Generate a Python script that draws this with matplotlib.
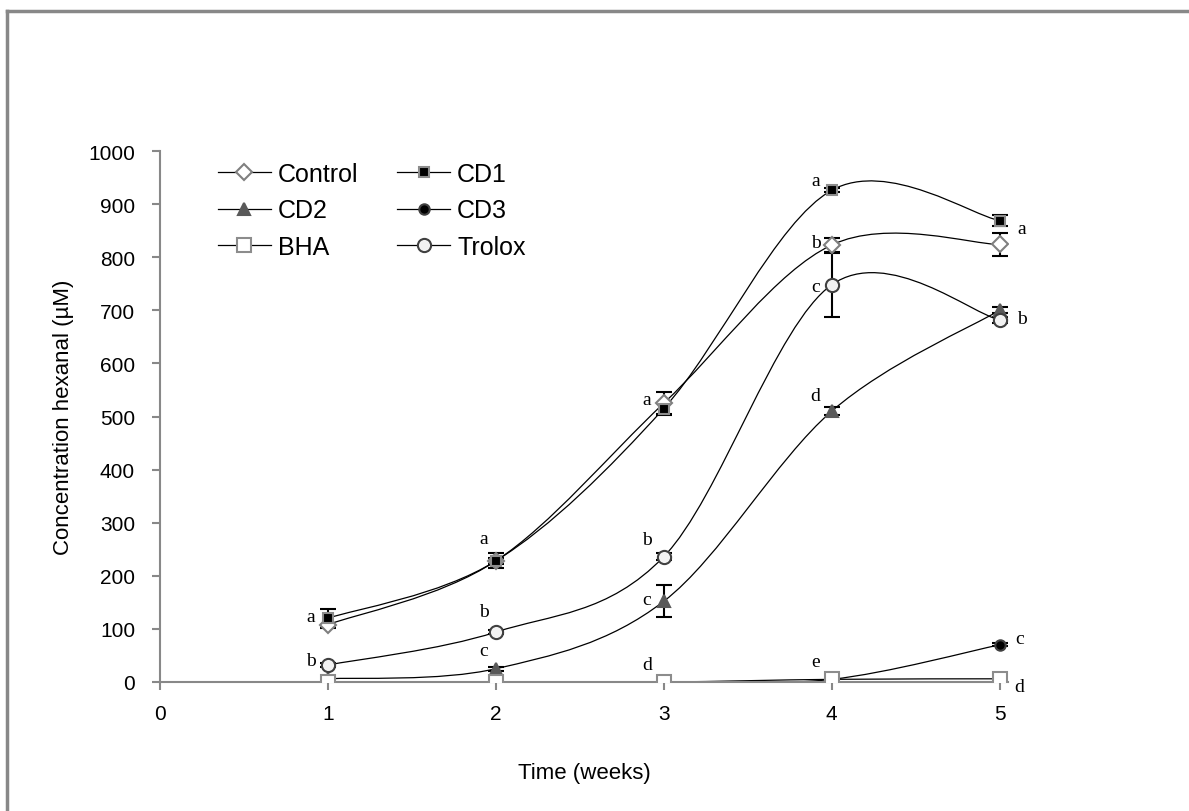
import numpy as np
import matplotlib
matplotlib.use("Agg")
import matplotlib.pyplot as plt
from matplotlib.path import Path
from matplotlib.patches import PathPatch
from matplotlib.lines import Line2D

weeks = [1, 2, 3, 4, 5]

control = [108, 228, 525, 823, 824]
control_err = [0, 6, 22, 14, 22]
cd1 = [120, 228, 515, 926, 869]
cd1_err = [18, 14, 10, 4, 10]
cd2 = [6, 25, 152, 510, 700]
cd2_err = [2, 4, 30, 8, 6]
cd3 = [0, 0, 0, 5, 70]
cd3_err = [0, 0, 0, 1, 3]
bha = [0, 0, 0, 5, 6]
bha_err = [0, 0, 0, 1, 1]
trolox = [32, 94, 236, 748, 682]
trolox_err = [3, 4, 6, 60, 6]

# significance letters: (week, y, text, x offset px, y offset px)
letters = [
    (1, 120, "a", -17, 2), (1, 32, "b", -17, 5),
    (2, 228, "a", -12, 22), (2, 94, "b", -12, 21), (2, 25, "c", -12, 18),
    (3, 515, "a", -17, 9), (3, 236, "b", -17, 17), (3, 152, "c", -17, 2), (3, 0, "d", -17, 18),
    (4, 926, "a", -16, 10), (4, 823, "b", -16, 2), (4, 748, "c", -16, -2), (4, 510, "d", -16, 16),
    (4, 5, "e", -16, 18),
    (5, 869, "a", 22, -8), (5, 682, "b", 22, 1), (5, 70, "c", 20, 6), (5, 6, "d", 20, -8),
]


def smooth_path(x, y):
    # Excel-like smoothed line: Catmull-Rom segments as cubic Beziers
    x = np.asarray(x, float)
    y = np.asarray(y, float)
    pts = np.column_stack([x, y])
    n = len(pts)
    verts = [pts[0]]
    codes = [Path.MOVETO]
    for i in range(n - 1):
        p0 = pts[i - 1] if i > 0 else pts[i]
        p1 = pts[i]
        p2 = pts[i + 1]
        p3 = pts[i + 2] if i + 2 < n else pts[i + 1]
        c1 = p1 + (p2 - p0) / 6.0
        c2 = p2 - (p3 - p1) / 6.0
        verts += [c1, c2, p2]
        codes += [Path.CURVE4] * 3
    return Path(verts, codes)


fig = plt.figure(figsize=(11.89, 8.12), dpi=100)
ax = fig.add_axes([160 / 1189, 1 - 683 / 812, (1008 - 160) / 1189, (683 - 152) / 812])

series = [
    ("Control", control, control_err, dict(marker="D", mfc="white", mec="#7f7f7f", ms=8)),
    ("CD1", cd1, cd1_err, dict(marker="s", mfc="black", mec="#8c8c8c", ms=7.5)),
    ("CD2", cd2, cd2_err, dict(marker="^", mfc="#595959", mec="#595959", ms=8.5)),
    ("CD3", cd3, cd3_err, dict(marker="o", mfc="black", mec="#404040", ms=7.5)),
    ("BHA", bha, bha_err, dict(marker="s", mfc="white", mec="#8c8c8c", ms=9.5)),
    ("Trolox", trolox, trolox_err, dict(marker="o", mfc="#f2f2f2", mec="#404040", ms=9.5)),
]

handles = {}
for name, vals, err, st in series:
    ax.add_patch(PathPatch(smooth_path(weeks, vals), fill=False, lw=0.9,
                           edgecolor="black", zorder=2))
for name, vals, err, st in series:
    ax.errorbar(weeks, vals, yerr=err, fmt="none", ecolor="black", elinewidth=1.5,
                capsize=6, capthick=1.5, zorder=3)
    ax.plot(weeks, vals, linestyle="none", mew=1.5, zorder=4, **st)
    handles[name] = Line2D([], [], color="black", lw=0.9, mew=1.5, label=name, **st)

for wk, yv, txt, dx, dy in letters:
    ax.annotate(txt, (wk, yv), xytext=(dx * 0.72, dy * 0.72), textcoords="offset points",
                ha="center", va="center", fontsize=14, family="Liberation Serif")

ax.set_xlim(0, 5.05)
ax.set_ylim(0, 1000)
ax.set_xticks([0, 1, 2, 3, 4, 5])
ax.set_yticks(range(0, 1001, 100))
for s in ["top", "right"]:
    ax.spines[s].set_visible(False)
for s in ["left", "bottom"]:
    ax.spines[s].set_color("#888888")
    ax.spines[s].set_linewidth(1.5)
ax.tick_params(axis="both", colors="#888888", length=6, width=1.5,
               labelsize=15, labelcolor="black")
for lbl in ax.get_xticklabels() + ax.get_yticklabels():
    lbl.set_family("Liberation Sans")
ax.tick_params(axis="x", pad=10)
ax.tick_params(axis="y", pad=12)
ax.set_xlabel("Time (weeks)", fontsize=16, family="Liberation Sans", labelpad=28)
ax.set_ylabel("Concentration hexanal (\u00b5M)", fontsize=16, family="Liberation Sans", labelpad=10)

# legend filled row by row like the original
order = ["Control", "CD2", "BHA", "CD1", "CD3", "Trolox"]
ax.legend(handles=[handles[k] for k in order], ncol=2, frameon=False, loc="upper left",
          bbox_to_anchor=(218 / 1189, 1 - 163 / 812), bbox_transform=fig.transFigure,
          borderaxespad=0, borderpad=0,
          prop={"family": "Liberation Sans", "size": 18},
          handlelength=2.1, columnspacing=1.55, labelspacing=0.5, handletextpad=0.3)

# gray frame on top and left edges of the picture
fig.add_artist(Line2D([7 / 1189, 7 / 1189], [0, 1 - 12 / 812], color="#888888", lw=2.5))
fig.add_artist(Line2D([7 / 1189, 1], [1 - 12 / 812, 1 - 12 / 812], color="#888888", lw=2.5))

fig.savefig("out.png", dpi=100)
